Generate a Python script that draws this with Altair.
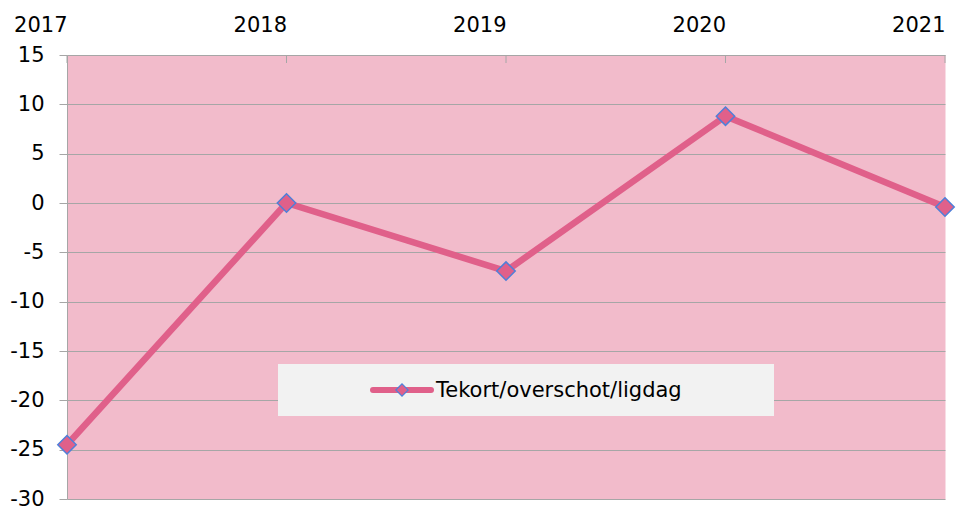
import altair as alt
import pandas as pd

# ---- data ----
years = ["2017", "2018", "2019", "2020", "2021"]
values = [-24.5, 0.0, -6.9, 8.8, -0.4]
series_name = "Tekort/overschot/ligdag"
y_ticks = [-30, -25, -20, -15, -10, -5, 0, 5, 10, 15]

# ---- styles ----
PINK_BG = "#F2BBCB"
LINE = "#E0608A"
MARKER_STROKE = "#4F7FD9"
GRID = "#A6A6A6"
FONT = "DejaVu Sans"

df = pd.DataFrame({"year": years, "value": values, "series": [series_name] * len(years)})
legend_df = pd.DataFrame({"label": [series_name]})

x_enc = alt.X(
    "year:O",
    scale=alt.Scale(type="point", padding=0),
    axis=alt.Axis(orient="top", ticks=False, domain=False, grid=False, labelAngle=0,
                  labelPadding=30, labelFontSize=21, labelColor="black", title=None),
)
y_enc = alt.Y(
    "value:Q",
    scale=alt.Scale(domain=[-30, 15], nice=False, zero=False),
    axis=alt.Axis(values=y_ticks, tickSize=8, tickColor=GRID, domainColor=GRID,
                  gridColor=GRID, grid=True, labelPadding=15, labelFontSize=21,
                  labelExpr="toString(datum.value)",
                  labelColor="black", title=None),
)

base = alt.Chart(df)

line = base.mark_line(color=LINE, strokeWidth=6.5, clip=False).encode(x=x_enc, y=y_enc)
points = base.mark_point(shape="diamond", filled=True, fill=LINE, stroke=MARKER_STROKE,
                         strokeWidth=1.5, size=340, opacity=1).encode(x="year:O", y="value:Q")
top_ticks = base.mark_rule(color=GRID, strokeWidth=1).encode(
    x="year:O", y=alt.value(0), y2=alt.value(8)
)

leg = alt.Chart(legend_df)
leg_box = leg.mark_rect(fill="#F2F2F2").encode(
    x=alt.value(211), x2=alt.value(707), y=alt.value(309), y2=alt.value(361)
)
leg_line = leg.mark_rule(color=LINE, strokeWidth=6, strokeCap="round").encode(
    x=alt.value(306), x2=alt.value(364), y=alt.value(335)
)
leg_marker = leg.mark_point(shape="diamond", filled=True, fill=LINE, stroke=MARKER_STROKE,
                            strokeWidth=1.2, size=150, opacity=1).encode(
    x=alt.value(335), y=alt.value(335)
)
leg_text = leg.mark_text(align="left", baseline="alphabetic", fontSize=21, font=FONT,
                         color="black").encode(
    x=alt.value(369), y=alt.value(342), text="label:N"
)

chart = alt.layer(
    top_ticks, line, points, leg_box, leg_line, leg_marker, leg_text
).properties(
    width=878,
    height=444,
    autosize=alt.AutoSizeParams(type="none"),
    padding={"left": 59, "top": 47, "right": 21, "bottom": 11},
    background="white",
).configure_view(
    fill=PINK_BG, stroke="transparent"
).configure_axis(
    labelFont=FONT
)

chart.save("out.html", embed_options={"renderer": "svg", "actions": False})
